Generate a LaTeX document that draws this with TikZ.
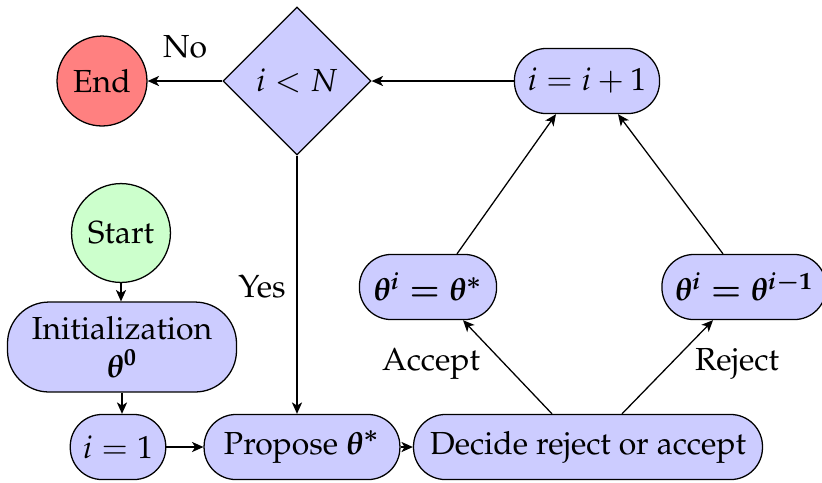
\documentclass[tikz,border=0pt]{standalone}
\usepackage[T1]{fontenc}
\usepackage{amsmath}
\usepackage{mathpazo}
\usetikzlibrary{shapes.geometric,arrows.meta,calc}

\begin{document}
\begin{tikzpicture}[x=0.3135pt,y=-0.3135pt,
  box/.style={rectangle, draw, fill=blue!20, rounded corners=10pt,
    minimum height=20.4pt, inner xsep=4pt, inner ysep=0pt, align=center},
  term/.style={circle, draw, inner sep=0pt},
  arr/.style={-{Stealth[length=3.6pt,width=3.2pt,inset=1pt]}, line width=0.4pt},
  lbl/.style={inner sep=0pt}]
\useasboundingbox (0,0) rectangle (822,482);

% terminal and decision nodes
\node[term, fill=red!50, minimum size=28.2pt] (end) at (102,81) {End};
\node[diamond, draw, fill=blue!20, aspect=1, inner sep=0pt,
      minimum width=46.4pt, minimum height=46.4pt] (test) at (297,81) {$i<N$};
\node[term, fill=green!20, minimum size=31pt] (start) at (121,233) {Start};

% process boxes
\node[box, minimum width=45.5pt] (inc) at (587,81) {$i=i+1$};
\node[box, rounded corners=13pt, minimum width=71.8pt, minimum height=28.2pt] (init) at (122,347)
  {Initialization\\$\boldsymbol{\theta^0}$};
\node[box, minimum width=28.2pt] (one) at (118,447) {$i=1$};
\node[box, minimum width=61.4pt] (prop) at (302,447) {Propose $\boldsymbol{\theta^*}$};
\node[box, minimum width=109.4pt] (dec) at (588,447) {Decide reject or accept};
\node[box, minimum width=43pt] (acc) at (428,287) {$\boldsymbol{\theta^i=\theta^*}$};
\node[box, minimum width=48.6pt] (rej) at (744,287) {$\boldsymbol{\theta^i=\theta^{i-1}}$};

% branch labels
\node[lbl] (no) at (185,47) {No};
\node[lbl] (yes) at (262,287) {Yes};
\node[lbl] (acclbl) at (431,364) {Accept};
\node[lbl] (rejlbl) at (737,364) {Reject};

% connectors
\draw[arr] (test) -- (end);
\draw[arr] (inc) -- (test);
\draw[arr] (test.south) -- (test.south |- prop.north);
\draw[arr] (start.south) -- (start.south |- init.north);
\draw[arr] (init.south) -- (init.south |- one.north);
\draw[arr] (one) -- (prop);
\draw[arr] (prop) -- (dec);
\draw[arr] ($(dec.north)+(-36,0)$) -- ($(acc.south)+(35,0)$);
\draw[arr] ($(dec.north)+(34,0)$) -- ($(rej.south)+(-31,0)$);
\draw[arr] ($(acc.north)+(29,0)$) -- ($(inc.south)+(-31,0)$);
\draw[arr] ($(rej.north)+(-21,0)$) -- ($(inc.south)+(31,0)$);
\end{tikzpicture}
\end{document}
